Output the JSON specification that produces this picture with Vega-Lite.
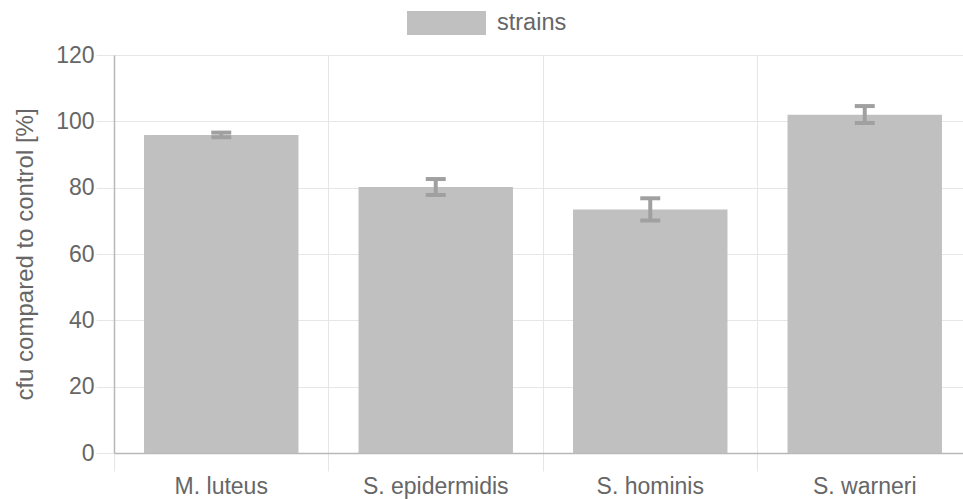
{
  "$schema": "https://vega.github.io/schema/vega-lite/v6.json",
  "width": 849,
  "height": 398,
  "autosize": {"type": "none"},
  "padding": {"left": 114, "top": 55, "right": 0, "bottom": 46},
  "config": {"view": {"stroke": null}, "font": "Liberation Sans"},
  "data": {
    "values": [
      {"strain": "M. luteus", "value": 95.9, "lo": 95.2, "hi": 96.6, "series": "strains"},
      {"strain": "S. epidermidis", "value": 80.2, "lo": 77.8, "hi": 82.6, "series": "strains"},
      {"strain": "S. hominis", "value": 73.4, "lo": 70.1, "hi": 76.8, "series": "strains"},
      {"strain": "S. warneri", "value": 102.0, "lo": 99.5, "hi": 104.6, "series": "strains"}
    ]
  },
  "encoding": {
    "x": {
      "field": "strain",
      "type": "nominal",
      "sort": null,
      "title": null,
      "scale": {"range": [0, 858], "paddingInner": 0, "paddingOuter": 0},
      "axis": {
        "labelAngle": 0,
        "labelFontSize": 23,
        "labelColor": "#666666",
        "labelPadding": 4,
        "tickSize": 18,
        "tickColor": "#e6e6e6",
        "tickWidth": 1,
        "bandPosition": 0,
        "grid": true,
        "gridColor": "#e6e6e6",
        "gridWidth": 1,
        "domainColor": "#b8b8b8",
        "domainWidth": 1.5
      }
    }
  },
  "layer": [
    {
      "mark": {"type": "bar", "width": {"band": 0.72}},
      "encoding": {
        "y": {
          "field": "value",
          "type": "quantitative",
          "title": "cfu compared to control [%]",
          "scale": {"domain": [0, 120], "nice": false},
          "axis": {
            "values": [0, 20, 40, 60, 80, 100, 120],
            "labelFontSize": 23,
            "labelColor": "#666666",
            "labelPadding": 2,
            "tickSize": 18,
            "tickColor": "#e6e6e6",
            "gridColor": "#e6e6e6",
            "domainColor": "#b8b8b8",
            "domainWidth": 1.5,
            "titleFontSize": 24,
            "titleFontWeight": "normal",
            "titleColor": "#666666",
            "titlePadding": 18
          }
        },
        "color": {
          "field": "series",
          "type": "nominal",
          "scale": {"range": ["#c0c0c0"]},
          "legend": {
            "title": null,
            "orient": "none",
            "legendX": 293,
            "legendY": -71.5,
            "padding": 0,
            "symbolType": "M-1,-0.304H1V0.304H-1Z",
            "symbolSize": 6241,
            "symbolStrokeWidth": 0,
            "symbolOpacity": 1,
            "labelFontSize": 23.5,
            "labelColor": "#666666",
            "labelOffset": 11
          }
        }
      }
    },
    {
      "mark": {"type": "rule", "color": "#a0a0a0", "strokeWidth": 4},
      "encoding": {
        "y": {"field": "lo", "type": "quantitative"},
        "y2": {"field": "hi"}
      }
    },
    {
      "mark": {"type": "tick", "color": "#a0a0a0", "thickness": 4, "size": 20, "opacity": 1},
      "encoding": {"y": {"field": "lo", "type": "quantitative"}}
    },
    {
      "mark": {"type": "tick", "color": "#a0a0a0", "thickness": 4, "size": 20, "opacity": 1},
      "encoding": {"y": {"field": "hi", "type": "quantitative"}}
    }
  ]
}
